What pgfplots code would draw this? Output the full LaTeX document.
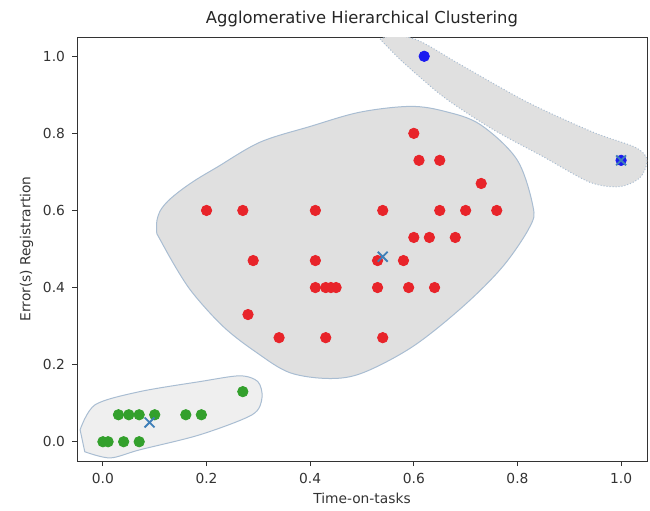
\documentclass[border=0pt]{standalone}
\usepackage{pgfplots}
\pgfplotsset{compat=1.18}
\usepackage{fontspec}
\setmainfont{DejaVu Sans}
\definecolor{hullfill}{HTML}{E0E0E0}
\definecolor{hullfilllight}{HTML}{EFEFEF}
\definecolor{hulledge}{HTML}{A9BDD2}
\definecolor{ptred}{HTML}{E8242A}
\definecolor{ptgreen}{HTML}{33A02C}
\definecolor{ptblue}{HTML}{1A1AF0}
\definecolor{cent}{HTML}{3F7FB8}
\definecolor{spine}{HTML}{333333}
\begin{document}
\begin{tikzpicture}
\begin{axis}[
  scale only axis,
  width=285pt, height=212pt,
  xmin=-0.05, xmax=1.05, ymin=-0.05, ymax=1.05,
  xtick={0,0.2,0.4,0.6,0.8,1.0},
  ytick={0,0.2,0.4,0.6,0.8,1.0},
  xticklabel style={/pgf/number format/.cd,fixed,fixed zerofill,precision=1},
  yticklabel style={/pgf/number format/.cd,fixed,fixed zerofill,precision=1},
  /pgf/number format/assume math mode=true,
  tick label style={font=\fontsize{6.9}{8}\selectfont, text=spine},
  label style={font=\fontsize{6.9}{8}\selectfont, text=spine},
  title style={font=\fontsize{8.2}{10}\selectfont, text=black!85, yshift=-4.5pt},
  title={Agglomerative Hierarchical Clustering},
  xlabel={Time-on-tasks},
  ylabel={Error(s) Registrartion},
  axis line style={spine, line width=0.5pt},
  tick style={spine, line width=0.5pt},
  tick align=outside,
  major tick length=2.5pt,
  xtick pos=bottom, ytick pos=left,
  xlabel style={yshift=2pt},
  ylabel style={yshift=-2pt},
]
\coordinate (ll) at (rel axis cs:0,0);
\coordinate (ur) at (rel axis cs:1,1);
% hulls
\addplot[fill=hullfill, draw=hulledge, line width=0.5pt, smooth, tension=0.55] coordinates {
(0.104,0.540)(0.104,0.572)(0.111,0.600)(0.126,0.625)(0.150,0.652)(0.180,0.680)(0.220,0.712)(0.303,0.777)(0.400,0.818)(0.496,0.855)(0.593,0.870)(0.660,0.857)(0.728,0.823)(0.799,0.732)(0.830,0.610)(0.824,0.558)(0.772,0.455)(0.695,0.351)(0.598,0.247)(0.502,0.179)(0.438,0.164)(0.361,0.179)(0.297,0.231)(0.232,0.299)(0.168,0.395)(0.124,0.491)} -- cycle;
\addplot[fill=hullfill, draw=hulledge, densely dotted, line width=0.5pt, smooth, tension=0.5] coordinates {
(0.535,1.044)(0.564,1.055)(0.612,1.039)(0.689,0.979)(0.819,0.881)(0.946,0.803)(1.027,0.764)(1.050,0.732)(1.037,0.686)(0.998,0.662)(0.940,0.673)(0.849,0.740)(0.753,0.810)(0.656,0.896)(0.573,0.992)} -- cycle;
\addplot[fill=hullfilllight, draw=hulledge, line width=0.5pt, smooth, tension=0.5] coordinates {
(-0.044,0.031)(-0.015,0.096)(0.071,0.13)(0.187,0.156)(0.264,0.171)(0.299,0.156)(0.307,0.114)(0.288,0.07)(0.187,0.018)(0.071,-0.021)(0.014,-0.042)(-0.035,-0.026)} -- cycle;
% red cluster
\addplot[only marks, mark=*, mark size=2.6pt, mark options={fill=ptred, draw=ptred}] coordinates {
(0.20,0.60)(0.27,0.60)(0.41,0.60)(0.54,0.60)(0.65,0.60)(0.70,0.60)(0.76,0.60)
(0.29,0.47)(0.41,0.47)(0.53,0.47)(0.58,0.47)
(0.41,0.40)(0.43,0.40)(0.44,0.40)(0.45,0.40)(0.53,0.40)(0.59,0.40)(0.64,0.40)
(0.28,0.33)(0.34,0.27)(0.43,0.27)(0.54,0.27)
(0.60,0.80)(0.61,0.73)(0.65,0.73)(0.73,0.67)
(0.60,0.53)(0.63,0.53)(0.68,0.53)};
% green cluster
\addplot[only marks, mark=*, mark size=2.6pt, mark options={fill=ptgreen, draw=ptgreen}] coordinates {
(0.00,0.00)(0.01,0.00)(0.04,0.00)(0.07,0.00)
(0.03,0.07)(0.05,0.07)(0.07,0.07)(0.10,0.07)(0.16,0.07)(0.19,0.07)
(0.27,0.13)};
% blue cluster
\addplot[only marks, mark=*, mark size=2.6pt, mark options={fill=ptblue, draw=ptblue}] coordinates {
(0.62,1.00)(1.00,0.73)};
% centroids
\addplot[only marks, mark=x, mark size=3.5pt, mark options={draw=cent, line width=0.9pt}] coordinates {
(0.54,0.48)(0.09,0.05)(1.00,0.73)};
\end{axis}
\pgfresetboundingbox
\path ([shift={(-38.5pt,-24.5pt)}]ll) rectangle ([shift={(1.5pt,18.5pt)}]ur);
\end{tikzpicture}
\end{document}
